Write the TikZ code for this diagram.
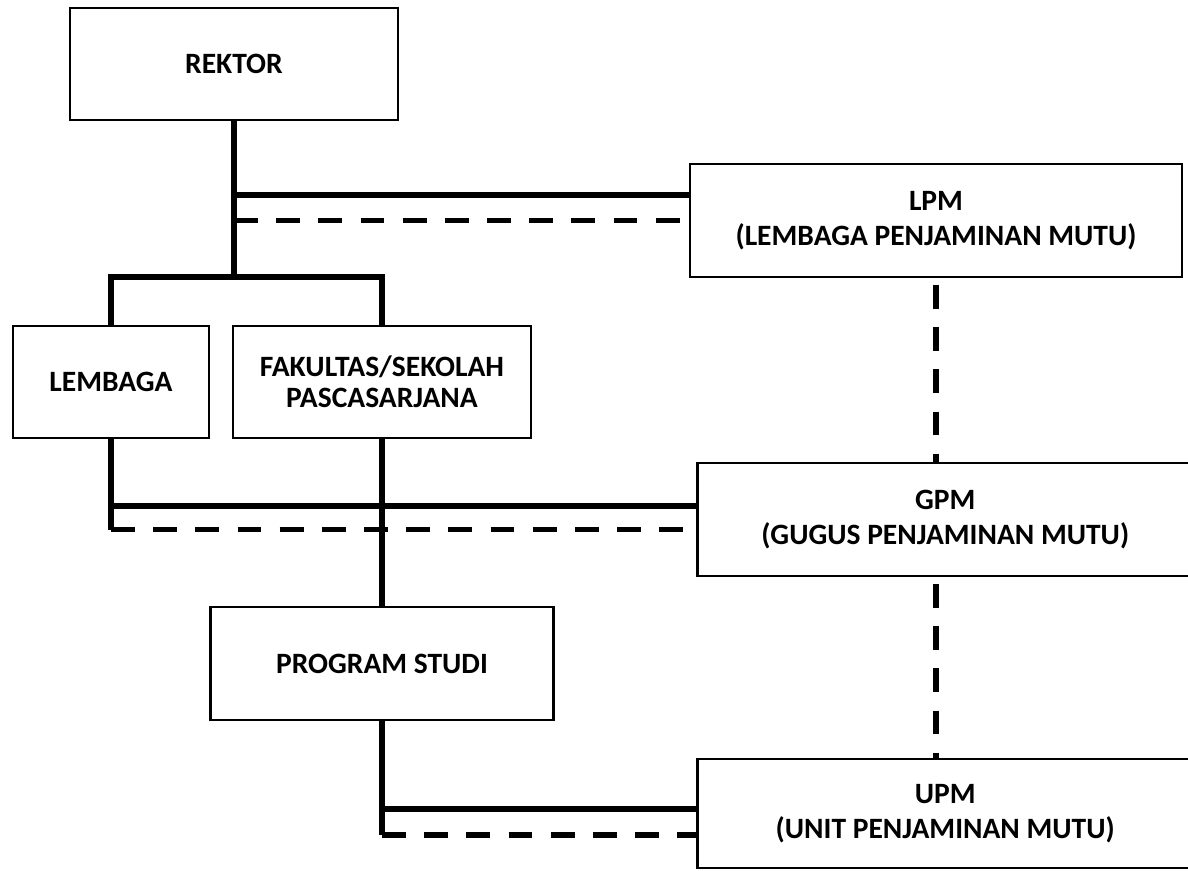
\documentclass[tikz,border=0pt]{standalone}
\usepackage{fontspec}
\setmainfont{Carlito}
\usetikzlibrary{positioning}

\begin{document}
\begin{tikzpicture}[
    box/.style={rectangle, draw, line width=2pt, align=center, inner sep=0pt, outer sep=0pt, font=\bfseries\fontsize{21}{25}\selectfont},
    link/.style={line width=4pt, line join=miter},
    dashlink/.style={line width=4pt, dash pattern=on 17pt off 13pt}
    ]

    \useasboundingbox (0,0) rectangle (29.7,-21.75);

    % Top: Rektor
    \node[box, minimum width=8.2cm, minimum height=2.8cm] (rektor) at (5.85,-1.6) {REKTOR};

    % Second row: Lembaga and Fakultas
    \node[box, minimum width=7.45cm, minimum height=2.8cm, below right=5.15cm and -4.125cm of rektor, font=\bfseries\fontsize{21}{22}\selectfont] (fakultas) {FAKULTAS/SEKOLAH\\PASCASARJANA};
    \node[box, minimum width=4.9cm, minimum height=2.8cm, left=0.6cm of fakultas] (lembaga) {LEMBAGA};

    % Program studi under fakultas
    \node[box, minimum width=8.575cm, minimum height=2.825cm, below=4.225cm of fakultas] (prodi) {PROGRAM STUDI};

    % Quality units on the right
    \node[box, minimum width=12.3cm, minimum height=2.825cm, below right=1.1cm and 7.3cm of rektor] (lpm) {LPM\\(LEMBAGA PENJAMINAN MUTU)};
    \node[box, minimum width=12.4cm, minimum height=2.825cm, below right=4.65cm and 0.18cm of lpm.south west] (gpm) {GPM\\(GUGUS PENJAMINAN MUTU)};
    \node[box, minimum width=12.4cm, minimum height=2.725cm, below=4.575cm of gpm] (upm) {UPM\\(UNIT PENJAMINAN MUTU)};

    % Where the lines meet the boxes
    \coordinate[below=3.925cm of rektor.south] (fork);
    \coordinate[above=0.64cm of lpm.west] (lpmline);
    \coordinate (lpmdash) at (lpm.west);
    \coordinate[above=0.34cm of gpm.west] (gpmline);
    \coordinate[below=0.25cm of gpm.west] (gpmdash);
    \coordinate[above=0.11cm of upm.west] (upmline);
    \coordinate[below=0.54cm of upm.west] (upmdash);

    % Rektor to lembaga / fakultas
    \draw[link] (rektor.south) -- (fork);
    \draw[link] (lembaga.north) |- (fork) -| (fakultas.north);
    \draw[link] (fakultas.south) -- (prodi.north);

    % Rektor to LPM
    \draw[link] (rektor.south |- lpmline) -- (lpmline);
    \draw[dashlink] (rektor.south |- lpmdash) -- (lpmdash);

    % Lembaga to GPM
    \draw[link] (lembaga.south) -- (lembaga.south |- gpmdash);
    \draw[link] (lembaga.south |- gpmline) -- (gpmline);
    \draw[dashlink] (lembaga.south |- gpmdash) -- (gpmdash);

    % Program studi to UPM
    \draw[link] (prodi.south) -- (prodi.south |- upmdash);
    \draw[link] (prodi.south |- upmline) -- (upmline);
    \draw[dashlink] (prodi.south |- upmdash) -- (upmdash);

    % LPM - GPM - UPM
    \draw[dashlink, shorten <=0.2cm] (lpm.south) -- (lpm.south |- gpm.north);
    \draw[dashlink, shorten <=0.2cm] (gpm.south -| lpm.south) -- (lpm.south |- upm.north);

\end{tikzpicture}
\end{document}
